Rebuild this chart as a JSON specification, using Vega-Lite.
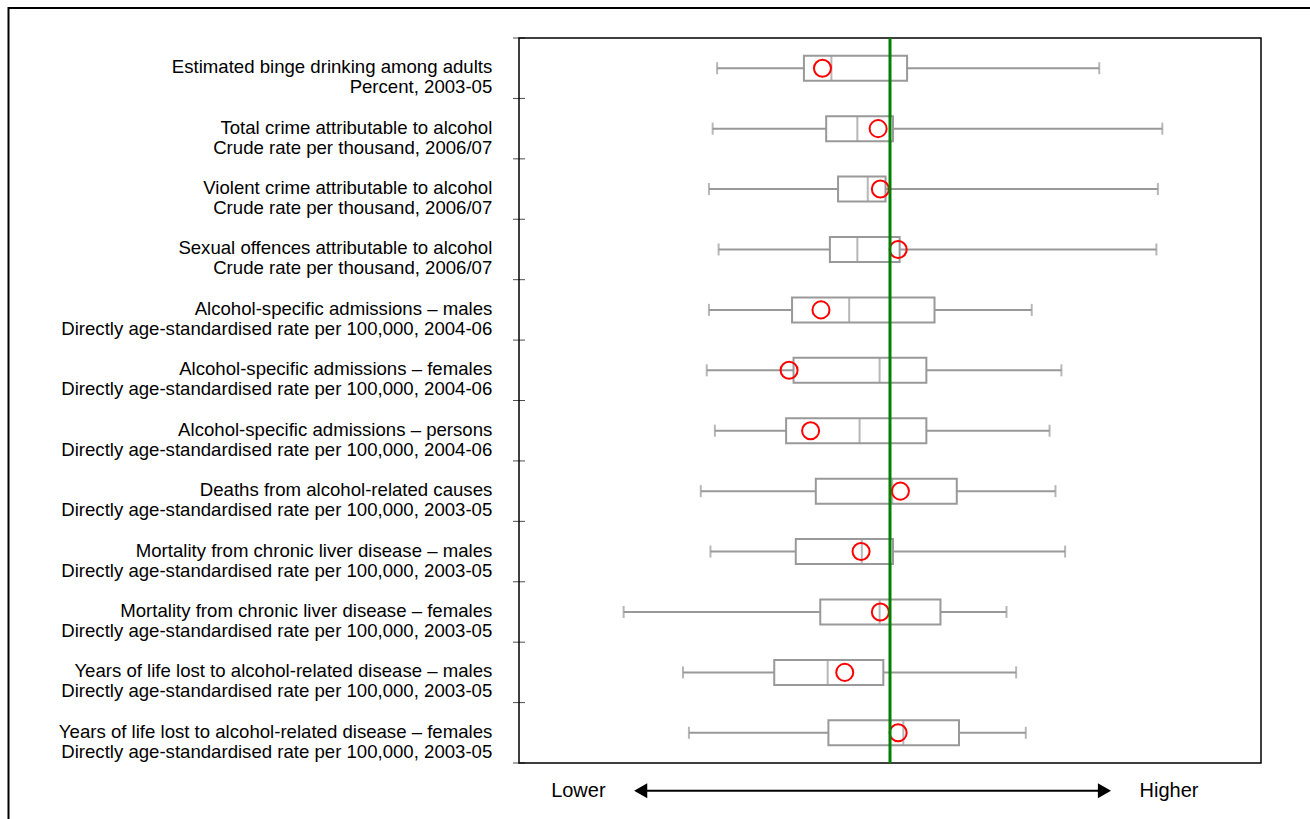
{
  "$schema": "https://vega.github.io/schema/vega-lite/v6.json",
  "autosize": {"type": "none"},
  "padding": {"left": 519, "top": 38, "right": 49, "bottom": 56},
  "width": 742,
  "height": 725,
  "background": "white",
  "config": {"view": {"stroke": "#000000", "strokeWidth": 1.5}, "font": "Liberation Sans"},
  "datasets": {
    "rows": [
      {"row": 1, "label": "Estimated binge drinking among adults\nPercent, 2003-05", "lo": 26.7, "q1": 38.4, "med": 42.1, "q3": 52.3, "hi": 78.2, "value": 40.9},
      {"row": 2, "label": "Total crime attributable to alcohol\nCrude rate per thousand, 2006/07", "lo": 26.1, "q1": 41.4, "med": 45.6, "q3": 50.4, "hi": 86.7, "value": 48.4},
      {"row": 3, "label": "Violent crime attributable to alcohol\nCrude rate per thousand, 2006/07", "lo": 25.6, "q1": 43.0, "med": 47.0, "q3": 49.4, "hi": 86.1, "value": 48.7},
      {"row": 4, "label": "Sexual offences attributable to alcohol\nCrude rate per thousand, 2006/07", "lo": 26.9, "q1": 41.9, "med": 45.6, "q3": 51.3, "hi": 85.9, "value": 51.1},
      {"row": 5, "label": "Alcohol-specific admissions – males\nDirectly age-standardised rate per 100,000, 2004-06", "lo": 25.6, "q1": 36.8, "med": 44.5, "q3": 56.0, "hi": 69.1, "value": 40.7},
      {"row": 6, "label": "Alcohol-specific admissions – females\nDirectly age-standardised rate per 100,000, 2004-06", "lo": 25.3, "q1": 37.0, "med": 48.6, "q3": 54.9, "hi": 73.1, "value": 36.4},
      {"row": 7, "label": "Alcohol-specific admissions – persons\nDirectly age-standardised rate per 100,000, 2004-06", "lo": 26.4, "q1": 36.0, "med": 45.9, "q3": 54.9, "hi": 71.5, "value": 39.3},
      {"row": 8, "label": "Deaths from alcohol-related causes\nDirectly age-standardised rate per 100,000, 2003-05", "lo": 24.5, "q1": 40.0, "med": 50.3, "q3": 59.0, "hi": 72.3, "value": 51.4},
      {"row": 9, "label": "Mortality from chronic liver disease – males\nDirectly age-standardised rate per 100,000, 2003-05", "lo": 25.8, "q1": 37.3, "med": 46.2, "q3": 50.4, "hi": 73.6, "value": 46.1},
      {"row": 10, "label": "Mortality from chronic liver disease – females\nDirectly age-standardised rate per 100,000, 2003-05", "lo": 14.1, "q1": 40.6, "med": 48.6, "q3": 56.8, "hi": 65.7, "value": 48.7},
      {"row": 11, "label": "Years of life lost to alcohol-related disease – males\nDirectly age-standardised rate per 100,000, 2003-05", "lo": 22.1, "q1": 34.4, "med": 41.6, "q3": 49.1, "hi": 67.0, "value": 43.9},
      {"row": 12, "label": "Years of life lost to alcohol-related disease – females\nDirectly age-standardised rate per 100,000, 2003-05", "lo": 22.9, "q1": 41.7, "med": 51.8, "q3": 59.3, "hi": 68.3, "value": 51.1}
    ],
    "reference": [{"england": 50}]
  },
  "data": {"name": "rows"},
  "layer": [
    {
      "data": {"name": "reference"},
      "mark": {"type": "rect", "fillOpacity": 0, "stroke": "#000000", "strokeWidth": 2},
      "encoding": {
        "x": {"datum": -68.8, "type": "quantitative", "scale": {"domain": [0, 100], "padding": 0}, "axis": null},
        "x2": {"datum": 150},
        "y": {"datum": 0.005, "type": "quantitative", "scale": {"domain": [0.5, 12.5], "reverse": true, "nice": false, "zero": false, "padding": 0}, "axis": null},
        "y2": {"datum": 20}
      }
    },
    {
      "mark": {"type": "tick", "orient": "horizontal", "color": "#000000", "size": 12, "thickness": 1, "yOffset": -30.2},
      "encoding": {
        "x": {"datum": 0, "type": "quantitative", "scale": {"domain": [0, 100], "padding": 0}, "axis": null},
        "y": {"field": "row", "type": "quantitative", "scale": {"domain": [0.5, 12.5], "reverse": true, "nice": false, "zero": false, "padding": 0}, "axis": null}
      }
    },
    {
      "transform": [{"filter": "datum.row == 12"}],
      "mark": {"type": "tick", "orient": "horizontal", "color": "#000000", "size": 12, "thickness": 1, "yOffset": 30.2},
      "encoding": {
        "x": {"datum": 0, "type": "quantitative", "scale": {"domain": [0, 100], "padding": 0}, "axis": null},
        "y": {"field": "row", "type": "quantitative", "scale": {"domain": [0.5, 12.5], "reverse": true, "nice": false, "zero": false, "padding": 0}, "axis": null}
      }
    },
    {
      "mark": {"type": "rule", "color": "#999999", "strokeWidth": 2},
      "encoding": {
        "x": {"field": "lo", "type": "quantitative", "scale": {"domain": [0, 100], "padding": 0}, "axis": null},
        "x2": {"field": "hi"},
        "y": {"field": "row", "type": "quantitative", "scale": {"domain": [0.5, 12.5], "reverse": true, "nice": false, "zero": false, "padding": 0}, "axis": null}
      }
    },
    {
      "mark": {"type": "tick", "orient": "vertical", "color": "#999999", "size": 12, "thickness": 2},
      "encoding": {
        "x": {"field": "lo", "type": "quantitative", "scale": {"domain": [0, 100], "padding": 0}, "axis": null},
        "y": {"field": "row", "type": "quantitative", "scale": {"domain": [0.5, 12.5], "reverse": true, "nice": false, "zero": false, "padding": 0}, "axis": null}
      }
    },
    {
      "mark": {"type": "tick", "orient": "vertical", "color": "#999999", "size": 12, "thickness": 2},
      "encoding": {
        "x": {"field": "hi", "type": "quantitative", "scale": {"domain": [0, 100], "padding": 0}, "axis": null},
        "y": {"field": "row", "type": "quantitative", "scale": {"domain": [0.5, 12.5], "reverse": true, "nice": false, "zero": false, "padding": 0}, "axis": null}
      }
    },
    {
      "mark": {"type": "bar", "orient": "horizontal", "size": 25, "fill": "#ffffff", "stroke": "#999999", "strokeWidth": 2},
      "encoding": {
        "x": {"field": "q1", "type": "quantitative", "scale": {"domain": [0, 100], "padding": 0}, "axis": null},
        "x2": {"field": "q3"},
        "y": {"field": "row", "type": "quantitative", "scale": {"domain": [0.5, 12.5], "reverse": true, "nice": false, "zero": false, "padding": 0}, "axis": null}
      }
    },
    {
      "mark": {"type": "tick", "orient": "vertical", "color": "#999999", "size": 25, "thickness": 2},
      "encoding": {
        "x": {"field": "med", "type": "quantitative", "scale": {"domain": [0, 100], "padding": 0}, "axis": null},
        "y": {"field": "row", "type": "quantitative", "scale": {"domain": [0.5, 12.5], "reverse": true, "nice": false, "zero": false, "padding": 0}, "axis": null}
      }
    },
    {
      "mark": {"type": "point", "shape": "circle", "filled": false, "stroke": "#ff0000", "strokeWidth": 2, "size": 290, "opacity": 1},
      "encoding": {
        "x": {"field": "value", "type": "quantitative", "scale": {"domain": [0, 100], "padding": 0}, "axis": null},
        "y": {"field": "row", "type": "quantitative", "scale": {"domain": [0.5, 12.5], "reverse": true, "nice": false, "zero": false, "padding": 0}, "axis": null}
      }
    },
    {
      "data": {"name": "reference"},
      "mark": {"type": "rule", "color": "#008000", "strokeWidth": 3},
      "encoding": {
        "x": {"field": "england", "type": "quantitative", "scale": {"domain": [0, 100], "padding": 0}, "axis": null}
      }
    },
    {
      "mark": {"type": "text", "align": "right", "baseline": "middle", "fontSize": 18.6, "lineHeight": 20, "lineBreak": "\n", "color": "#000000", "dy": -1},
      "encoding": {
        "x": {"datum": -3.6, "type": "quantitative", "scale": {"domain": [0, 100], "padding": 0}, "axis": null},
        "y": {"field": "row", "type": "quantitative", "scale": {"domain": [0.5, 12.5], "reverse": true, "nice": false, "zero": false, "padding": 0}, "axis": null},
        "text": {"field": "label", "type": "nominal"}
      }
    },
    {
      "data": {"name": "reference"},
      "mark": {"type": "rule", "color": "#000000", "strokeWidth": 2},
      "encoding": {
        "x": {"datum": 16.4, "type": "quantitative", "scale": {"domain": [0, 100], "padding": 0}, "axis": null},
        "x2": {"datum": 78.9},
        "y": {"datum": 12.96, "type": "quantitative", "scale": {"domain": [0.5, 12.5], "reverse": true, "nice": false, "zero": false, "padding": 0}, "axis": null}
      }
    },
    {
      "data": {"name": "reference"},
      "mark": {"type": "point", "shape": "triangle-left", "filled": true, "color": "#000000", "size": 230, "opacity": 1},
      "encoding": {
        "x": {"datum": 16.4, "type": "quantitative", "scale": {"domain": [0, 100], "padding": 0}, "axis": null},
        "y": {"datum": 12.96, "type": "quantitative", "scale": {"domain": [0.5, 12.5], "reverse": true, "nice": false, "zero": false, "padding": 0}, "axis": null}
      }
    },
    {
      "data": {"name": "reference"},
      "mark": {"type": "point", "shape": "triangle-right", "filled": true, "color": "#000000", "size": 230, "opacity": 1},
      "encoding": {
        "x": {"datum": 78.9, "type": "quantitative", "scale": {"domain": [0, 100], "padding": 0}, "axis": null},
        "y": {"datum": 12.96, "type": "quantitative", "scale": {"domain": [0.5, 12.5], "reverse": true, "nice": false, "zero": false, "padding": 0}, "axis": null}
      }
    },
    {
      "data": {"name": "reference"},
      "mark": {"type": "text", "text": "Lower", "align": "center", "baseline": "middle", "fontSize": 20, "color": "#000000"},
      "encoding": {
        "x": {"datum": 8.0, "type": "quantitative", "scale": {"domain": [0, 100], "padding": 0}, "axis": null},
        "y": {"datum": 12.96, "type": "quantitative", "scale": {"domain": [0.5, 12.5], "reverse": true, "nice": false, "zero": false, "padding": 0}, "axis": null}
      }
    },
    {
      "data": {"name": "reference"},
      "mark": {"type": "text", "text": "Higher", "align": "center", "baseline": "middle", "fontSize": 20, "color": "#000000"},
      "encoding": {
        "x": {"datum": 87.6, "type": "quantitative", "scale": {"domain": [0, 100], "padding": 0}, "axis": null},
        "y": {"datum": 12.96, "type": "quantitative", "scale": {"domain": [0.5, 12.5], "reverse": true, "nice": false, "zero": false, "padding": 0}, "axis": null}
      }
    }
  ]
}
